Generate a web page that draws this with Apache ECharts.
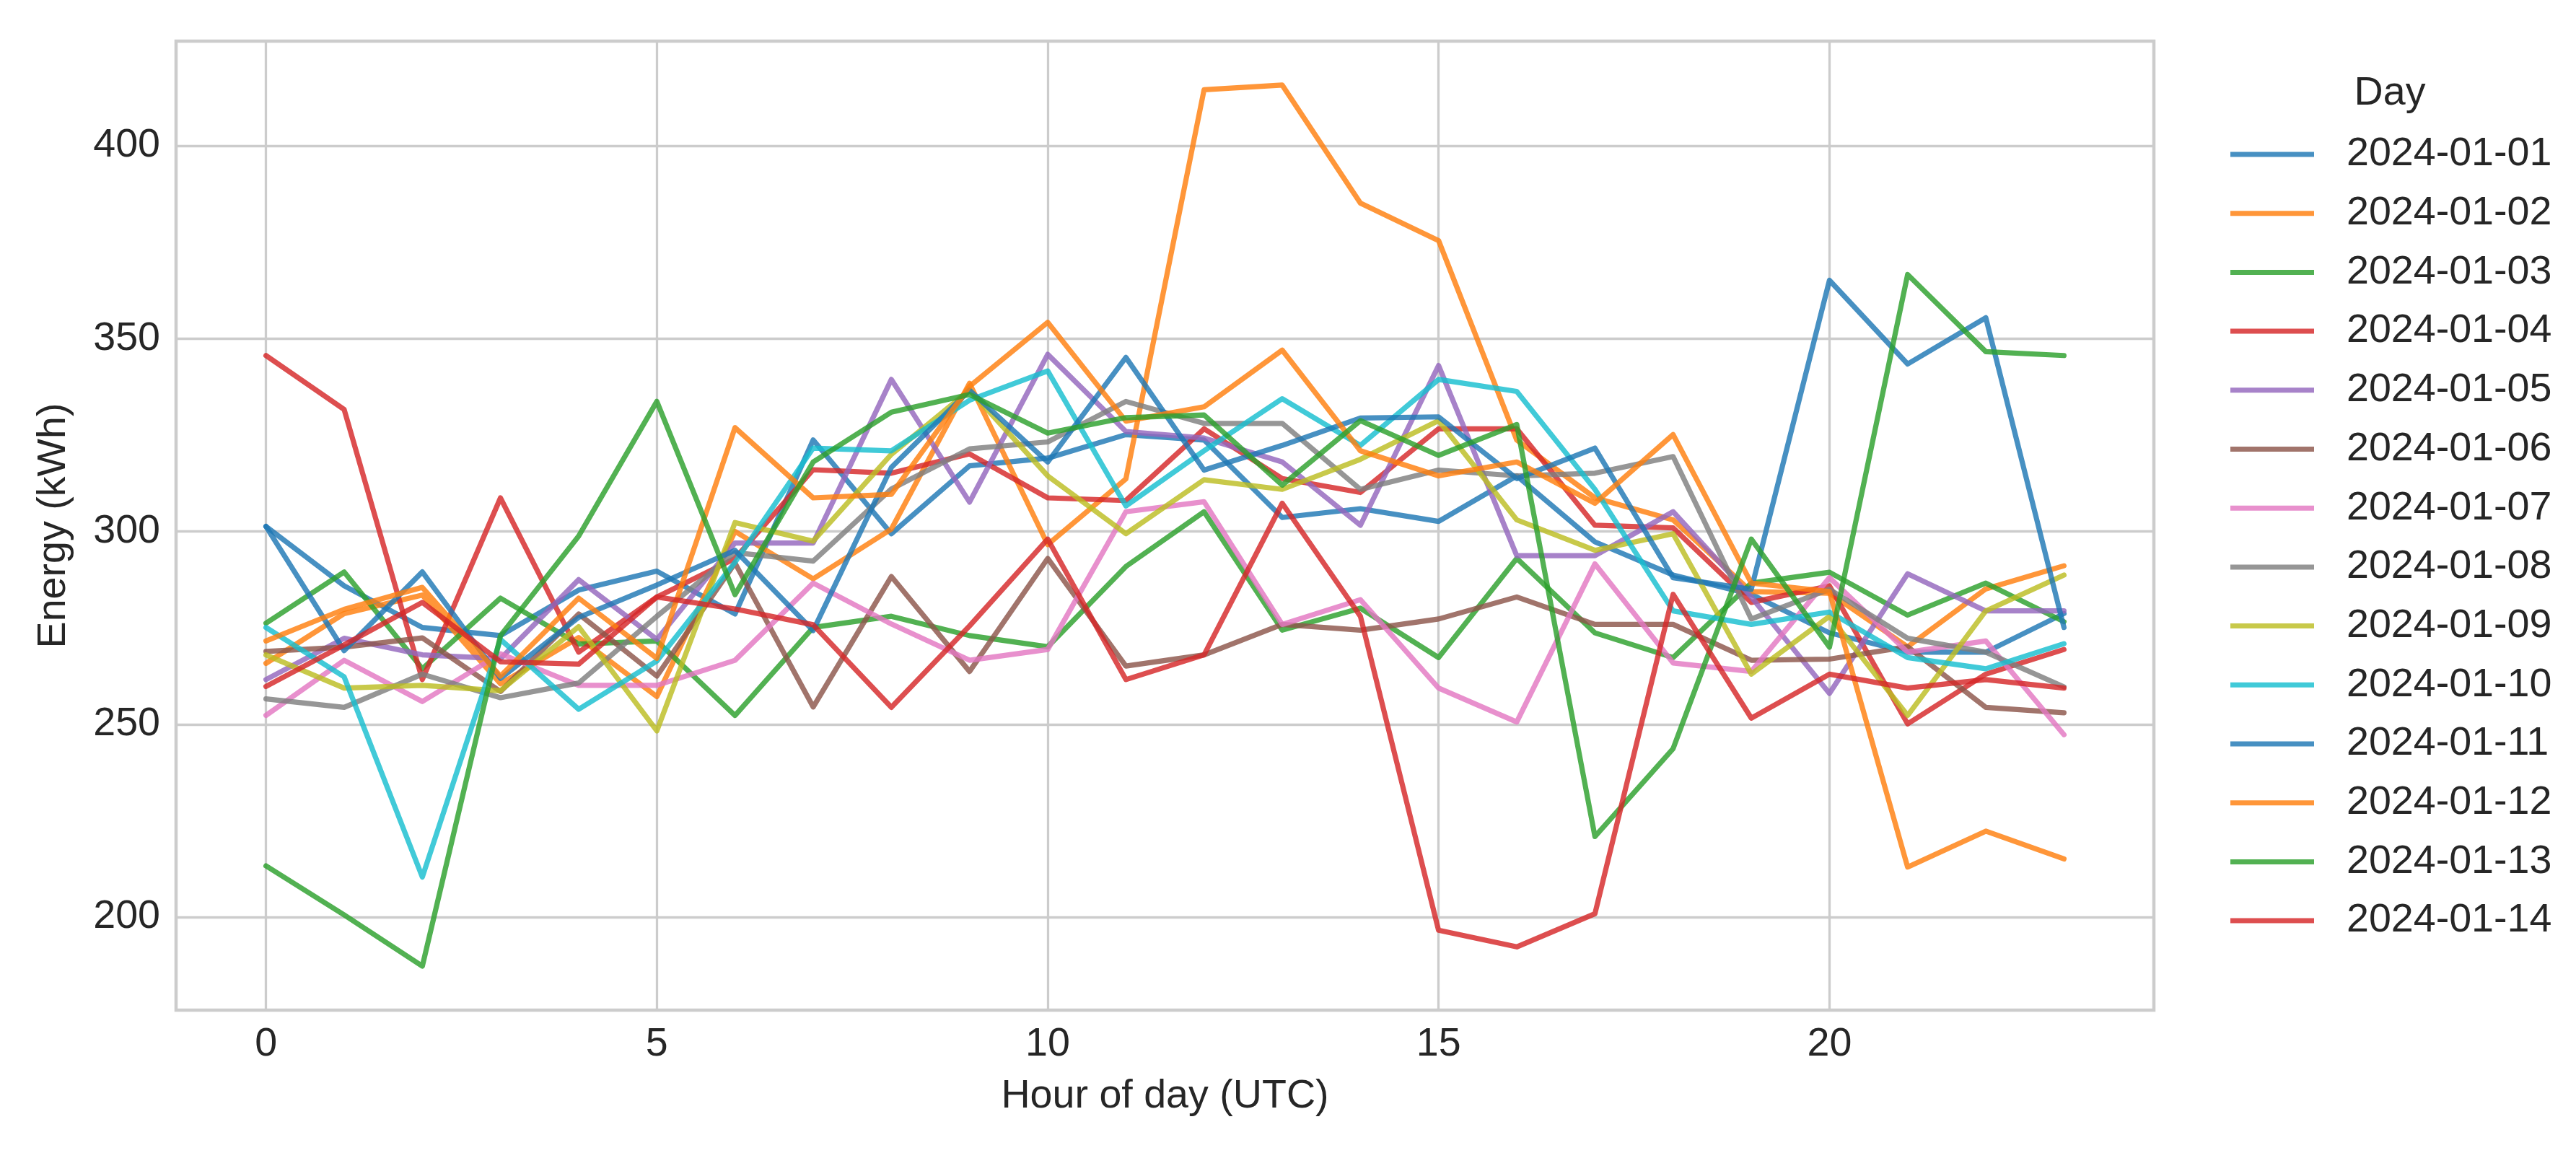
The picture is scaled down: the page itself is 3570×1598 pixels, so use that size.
<!DOCTYPE html>
<html>
<head>
<meta charset="utf-8">
<script src="https://cdn.jsdelivr.net/npm/echarts@6/dist/echarts.min.js"></script>
<style>
html,body{margin:0;padding:0;background:#ffffff;}
#chart{width:3570px;height:1598px;}
</style>
</head>
<body>
<div id="chart"></div>
<script>
// ---- data ----
const hours = [0,1,2,3,4,5,6,7,8,9,10,11,12,13,14,15,16,17,18,19,20,21,22,23];
const days = ['2024-01-01','2024-01-02','2024-01-03','2024-01-04','2024-01-05','2024-01-06','2024-01-07',
              '2024-01-08','2024-01-09','2024-01-10','2024-01-11','2024-01-12','2024-01-13','2024-01-14'];
const xTicks = [0,5,10,15,20];
const yTicks = [200,250,300,350,400];

const d01 = [301.3,285.9,275.1,273.0,284.8,289.7,278.6,323.7,299.4,317.0,319.0,325.1,323.7,303.6,305.9,302.6,314.4,297.3,288.7,283.7,273.7,268.7,268.7,278.7];
const d02 = [265.8,278.7,283.5,260.5,272.5,257.2,300.0,287.7,300.6,338.4,296.6,313.6,414.5,415.7,385.1,375.4,323.7,308.7,303.0,284.4,284.0,270.1,285.1,291.1];
const d03 = [276.2,289.5,264.4,282.7,270.8,271.6,252.3,275.1,278.0,273.0,270.1,290.9,305.1,274.4,280.1,267.3,293.0,273.7,267.3,286.6,289.4,278.3,286.6,276.6];
const d04 = [345.6,331.6,261.6,308.7,268.7,283.0,293.0,316.0,315.1,320.1,308.7,308.0,326.6,313.7,310.1,326.6,326.6,301.6,300.9,281.6,285.9,250.1,263.0,269.4];
const d05 = [261.6,272.3,268.0,267.0,287.5,272.0,297.0,297.0,339.4,307.6,345.9,325.9,324.2,318.0,301.6,343.0,293.7,293.7,305.1,283.0,258.0,289.0,279.4,279.4];
const d06 = [268.9,270.0,272.4,258.5,278.6,262.5,291.8,254.5,288.3,263.7,293.0,265.1,268.0,275.9,274.4,277.3,283.0,275.9,275.9,266.6,266.9,270.1,254.4,253.0];
const d07 = [252.3,266.6,255.9,268.3,260.1,260.1,266.6,286.6,276.0,266.6,269.4,305.1,307.7,275.9,282.3,259.4,250.6,291.6,265.9,263.7,288.0,268.7,271.6,247.3];
const d08 = [256.6,254.4,263.0,256.9,260.7,278.0,294.5,292.3,311.0,321.4,323.2,333.7,328.0,328.0,310.9,315.9,314.4,315.1,319.4,277.3,285.0,272.3,268.7,259.7];
const d09 = [268.0,259.4,260.1,258.7,275.3,248.3,302.3,297.5,320.0,336.6,314.4,299.4,313.4,310.9,318.7,328.7,303.0,295.1,299.4,263.0,278.0,252.3,279.4,288.7];
const d10 = [275.1,262.3,210.4,272.0,253.9,266.4,292.0,321.6,320.9,334.0,341.6,306.6,320.9,334.4,322.3,339.4,336.3,310.9,279.4,275.9,279.1,267.3,264.4,270.9];
const d11 = [301.3,269.1,289.5,261.9,277.7,286.1,295.1,274.3,316.6,336.6,318.0,345.1,315.9,322.3,329.4,329.7,313.7,321.6,288.0,285.0,365.1,343.4,355.4,275.1];
const d12 = [271.6,279.8,285.5,262.5,282.7,267.1,326.9,308.7,309.6,337.6,354.2,328.6,332.3,347.0,320.9,314.4,318.0,307.3,325.1,286.6,284.4,213.0,222.3,215.1];
const d13 = [213.3,200.6,187.3,273.0,298.8,333.7,283.6,318.0,330.9,335.5,325.5,329.5,330.2,312.0,328.7,319.7,327.7,220.9,243.7,298.0,270.0,366.6,346.6,345.6];
const d14 = [259.8,270.6,281.6,266.2,265.6,283.0,279.9,275.8,254.4,275.5,298.0,261.6,268.0,307.3,278.0,196.6,192.3,200.9,283.7,251.6,263.0,259.4,261.6,259.4];

const seriesValues = [d01,d02,d03,d04,d05,d06,d07,d08,d09,d10,d11,d12,d13,d14];

// ---- style ----
const palette = ['#1f77b4','#ff7f0e','#2ca02c','#d62728','#9467bd','#8c564b','#e377c2',
                 '#7f7f7f','#bcbd22','#17becf','#1f77b4','#ff7f0e','#2ca02c','#d62728'];
const FONT = "'Liberation Sans', Arial, sans-serif";
const TXT = '#262626';
const FS = 55.6;

const chart = echarts.init(document.getElementById('chart'), null, {renderer:'canvas'});

const series = days.map((name, i) => ({
  name: name,
  type: 'line',
  data: hours.map((h, j) => [h, seriesValues[i][j]]),
  symbol: 'none',
  showSymbol: false,
  color: palette[i],
  lineStyle: {width: 7.2, opacity: 0.82, cap: 'round', join: 'round'},
  emphasis: {disabled: true},
  animation: false
}));

chart.setOption({
  animation: false,
  backgroundColor: '#ffffff',
  grid: {
    left: 244, right: 585, top: 57, bottom: 198,
    containLabel: false, outerBoundsMode: 'none',
    show: true, borderColor: '#cccccc', borderWidth: 4.5, backgroundColor: '#ffffff'
  },
  xAxis: {
    type: 'value', min: -1.15, max: 24.15,
    axisLine: {show: false},
    axisTick: {show: false, customValues: xTicks},
    axisLabel: {customValues: xTicks, fontSize: FS, color: TXT, fontFamily: FONT, margin: 20},
    splitLine: {show: true, lineStyle: {color: '#cccccc', width: 3.3}},
    name: 'Hour of day (UTC)', nameLocation: 'middle', nameGap: 92,
    nameTextStyle: {fontSize: FS, color: TXT, fontFamily: FONT}
  },
  yAxis: {
    type: 'value', min: 175.9, max: 427.1,
    axisLine: {show: false},
    axisTick: {show: false, customValues: yTicks},
    axisLabel: {customValues: yTicks, fontSize: FS, color: TXT, fontFamily: FONT, margin: 22},
    splitLine: {show: true, lineStyle: {color: '#cccccc', width: 3.3}},
    name: 'Energy (kWh)', nameLocation: 'middle', nameGap: 141,
    nameTextStyle: {fontSize: FS, color: TXT, fontFamily: FONT}
  },
  legend: {
    orient: 'vertical', left: 3086, top: 179,
    itemWidth: 116, itemHeight: 7, itemGap: 21.7,
    icon: 'rect', selectedMode: false,
    data: days,
    itemStyle: {opacity: 0.82},
    textStyle: {fontSize: FS, lineHeight: 60, color: TXT, fontFamily: FONT, padding: [0,0,0,40]}
  },
  graphic: [{
    type: 'text', x: 3312, y: 130,
    style: {text: 'Day', fill: TXT, font: FS + 'px ' + FONT, textAlign: 'center', textVerticalAlign: 'middle'}
  }],
  series: series
});
</script>
</body>
</html>
